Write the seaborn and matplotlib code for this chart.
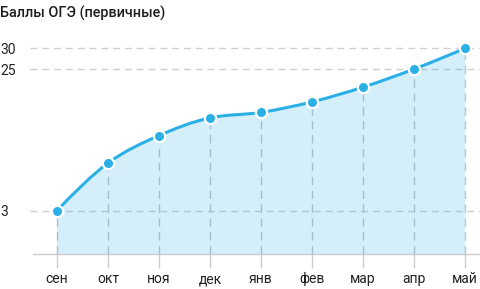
import numpy as np
import matplotlib
matplotlib.use("Agg")
import matplotlib.pyplot as plt
import seaborn as sns
from matplotlib.path import Path
from matplotlib.patches import PathPatch

months = ['сен', 'окт', 'ноя', 'дек', 'янв', 'фев', 'мар', 'апр', 'май']
scores = [3, 8, 12, 15, 16, 18, 21, 25, 30]
y_ticks = [3, 25, 30]
y_tick_labels = ['3', '25', '30']
title = 'Баллы ОГЭ (первичные)'

LINE = '#2bb0e6'

sns.set_theme(style='white')
plt.rcParams['font.family'] = ['Roboto', 'DejaVu Sans']


def fwd(v):
    return np.sqrt(np.clip(v, 0, None))


def inv(s):
    return np.square(s)


def monotone_path(x, y):
    x = np.asarray(x, float)
    y = np.asarray(y, float)
    n = len(x)
    h = np.diff(x)
    d = np.diff(y) / h
    t = np.zeros(n)
    for i in range(1, n - 1):
        s0, s1 = d[i - 1], d[i]
        p = (s0 * h[i] + s1 * h[i - 1]) / (h[i - 1] + h[i])
        t[i] = (np.sign(s0) + np.sign(s1)) * min(abs(s0), abs(s1), 0.5 * abs(p))
    t[0] = (3 * d[0] - t[1]) / 2
    t[-1] = (3 * d[-1] - t[-2]) / 2
    verts = [(x[0], y[0])]
    codes = [Path.MOVETO]
    for i in range(n - 1):
        dx = h[i]
        verts += [(x[i] + dx / 3, y[i] + dx * t[i] / 3),
                  (x[i + 1] - dx / 3, y[i + 1] - dx * t[i + 1] / 3),
                  (x[i + 1], y[i + 1])]
        codes += [Path.CURVE4] * 3
    return verts, codes


fig = plt.figure(figsize=(4.8, 2.89), dpi=100)
ax = fig.add_axes([33 / 480, 35 / 289, 447 / 480, 216 / 289])
ax.set_yscale('function', functions=(fwd, inv))

xs = np.arange(len(months))
bottom = 0.53

# smooth curve built in sqrt space, mapped back to data units
v_s, codes = monotone_path(xs, fwd(np.array(scores, float)))
verts = [(vx, inv(vy)) for vx, vy in v_s]

fill_verts = verts + [(xs[-1], bottom), (xs[0], bottom), (xs[0], scores[0])]
fill_codes = codes + [Path.LINETO, Path.LINETO, Path.CLOSEPOLY]

# grid
for v in y_ticks:
    ax.axhline(v, xmin=-0.007, color='#cfcfcf', lw=1, ls=(0, (5, 3.5)),
               zorder=1, clip_on=False)
ax.vlines(xs, bottom, scores, colors='#c4c4c4', lw=1,
          linestyles=[(0, (6, 4))], zorder=1)

ax.add_patch(PathPatch(Path(fill_verts, fill_codes), facecolor=LINE,
                       alpha=0.2, edgecolor='none', zorder=2))
ax.add_patch(PathPatch(Path(verts, codes), facecolor='none', edgecolor=LINE,
                       lw=2.2, zorder=3, capstyle='round'))

sns.scatterplot(x=xs, y=scores, s=66, color=LINE, edgecolor='white',
                linewidth=1.6, zorder=4, clip_on=False, ax=ax)

ax.set_xlim(-24 / 51, (480 - 57) / 51)
ax.set_ylim(bottom, 32.7)
ax.set_xticks(xs, months)
ax.set_yticks(y_ticks, y_tick_labels)
ax.set_xlabel('')
ax.set_ylabel('')

for s in ['left', 'top', 'right']:
    ax.spines[s].set_visible(False)
ax.spines['bottom'].set_color('#cccccc')
ax.spines['bottom'].set_linewidth(1)

ax.tick_params(axis='x', bottom=True, length=10, width=1, color='#cccccc',
               pad=3, labelsize=10, labelcolor='#222222')
ax.tick_params(axis='y', left=True, length=0, pad=23.8, labelsize=10,
               labelcolor='#222222')
for lab in ax.get_yticklabels():
    lab.set_horizontalalignment('left')

fig.text(0.0, 1 - 13 / 289, title, fontsize=10.4, fontweight='medium',
         va='center', ha='left', color='#1d1d1f')

fig.savefig('out.png', dpi=100)
